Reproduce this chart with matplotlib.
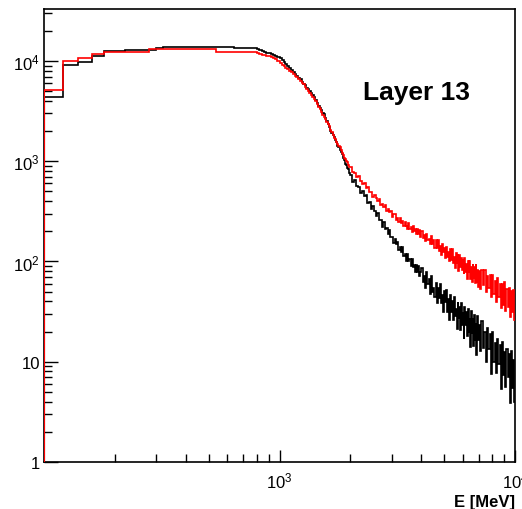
import numpy as np
import matplotlib
matplotlib.use("Agg")
import matplotlib.pyplot as plt
from matplotlib.ticker import FixedLocator, FuncFormatter, LogLocator, NullFormatter

# ===== DATA (counts per bin) =====
# bins: 20 MeV up to 2 GeV, 40 MeV up to 4 GeV, 50 MeV up to 7 GeV, 100 MeV up to 10 GeV
edges = np.concatenate([np.arange(100, 2000, 20),
                        np.arange(2000, 4000, 40),
                        np.arange(4000, 7000, 50),
                        np.arange(7000, 10001, 100)])

black_low = [
    4370, 9190, 9660, 11220, 12500, 12600, 12880, 12900, 12900, 12950,        # 100-280
    13620, 13650, 13640, 13660, 13680, 13650, 13670, 13690, 13660, 13650, 13680, 13700,  # 300-520
    13670, 13650, 13640, 13660, 13630, 13610, 13600, 13580, 13560, 13520, 13480, 13420,  # 540-760
    13340, 13030, 12740, 12530, 12300, 12100, 11890, 11700, 11480, 11220, 10960,  # 780-980
    10590, 10230, 9770, 9420, 8910, 8510, 8050, 7850, 7500, 7160,            # 1000-1180
    6840, 6600, 6240, 5960, 5750, 5430, 5250, 5010, 4790, 4570,              # 1200-1380
    4380, 4070, 3850, 3560, 3430, 3240, 3050, 2930, 2720, 2540,              # 1400-1580
    2370, 2210, 2020, 1930, 1820, 1750, 1620, 1550, 1420, 1380,              # 1600-1780
    1300, 1230, 1180, 1080, 1020, 940, 910, 860, 830, 770,                   # 1800-1980
]
black_mid = [
    726, 627, 654, 564, 558, 485, 510, 445, 459, 381,
    389, 332, 357, 318, 285, 308, 258, 261, 223, 246,
    212, 217, 187, 207, 174, 175, 153, 169, 148, 158,
    129, 140, 124, 138, 114, 119, 102, 118, 102, 107,
    91, 106, 88, 93, 79, 92, 79, 90, 71, 79,
]
black_high = [
    85.9, 62.6, 71.5, 54.5, 78.2, 59.0, 66.4, 47.1, 71.1, 50.1,
    54.9, 44.1, 61.4, 38.4, 54.2, 43.6, 59.0, 38.7, 46.5, 31.6,
    51.2, 39.1, 51.9, 31.1, 42.0, 26.0, 46.1, 31.2, 40.3, 25.9,
    44.1, 28.4, 33.6, 21.1, 39.8, 27.5, 35.3, 20.6, 38.9, 23.1,
    30.4, 16.8, 35.2, 23.0, 31.4, 18.1, 33.9, 19.4, 26.7, 13.9,
    32.0, 19.4, 27.6, 14.3, 29.4, 16.3, 24.1, 11.7, 28.3, 16.4,
]
black_tail = [
    23.5, 12.7, 25.5, 13.7, 19.8, 9.9, 21.6, 13.5, 18.9, 7.6,
    20, 10, 15.5, 7.8, 16.8, 9.5, 14.7, 5.3, 15.8, 7.4,
    12.4, 5.6, 13.5, 7, 11.9, 3.9, 12.8, 5.5, 10.3, 4.0,
]

red_low = [
    5130, 10110, 10590, 11750, 12370, 12400, 12400, 12410, 12390, 13100,      # 100-280
    13150, 13180, 13200, 13190, 13170, 13200, 13210, 13180, 13160, 13190, 13170, 13150,  # 300-520
    12400, 12420, 12390, 12410, 12380, 12400, 12390, 12370, 12380, 12360, 12350, 12330,  # 540-760
    12300, 12020, 11750, 11480, 11350, 11220, 11090, 10960, 10720, 10350, 10000,  # 780-980
    9550, 9120, 8810, 8510, 8300, 7940, 7760, 7500, 7080, 6920,              # 1000-1180
    6610, 6310, 6100, 5900, 5560, 5310, 5070, 4760, 4620, 4420,              # 1200-1380
    4180, 3950, 3740, 3480, 3290, 3110, 2890, 2780, 2620, 2470,              # 1400-1580
    2330, 2230, 2060, 1940, 1830, 1710, 1650, 1570, 1500, 1430,              # 1600-1780
    1380, 1290, 1220, 1150, 1070, 1050, 1000, 975, 910, 870,                 # 1800-1980
]
red_mid = [
    868, 780, 770, 689, 709, 641, 597, 600, 547, 557,
    492, 489, 440, 463, 428, 402, 418, 370, 378, 351,
    368, 319, 337, 310, 319, 280, 295, 299, 262, 270,
    248, 273, 242, 251, 225, 246, 227, 213, 240, 210,
    220, 197, 224, 202, 211, 188, 209, 188, 208, 175,
]
red_high = [
    201, 173, 185, 160, 189, 163, 169, 148, 179, 150,
    162, 135, 163, 136, 162, 128, 143, 117, 149, 125,
    137, 108, 140, 112, 124, 100, 132, 104, 133, 97,
    111, 86, 122, 97, 120, 80, 117, 88, 108, 83,
    104, 75, 109, 78, 95, 67, 101, 76, 102, 67,
    89, 62, 94, 68, 89, 61, 94, 63, 82, 56,
]
red_tail = [
    81, 53, 82, 58, 83, 50, 72, 54, 73, 44,
    73, 47, 64, 39, 69, 44, 59, 34, 60, 37,
    62, 32, 53, 35, 55, 28, 51, 31, 52.5, 26,
]

black = np.array(black_low + black_mid + black_high + black_tail, dtype=float)
red = np.array(red_low + red_mid + red_high + red_tail, dtype=float)

# ===== STYLE =====
plt.rcParams["font.family"] = ["Liberation Sans", "DejaVu Sans"]
plt.rcParams["mathtext.fontset"] = "custom"
plt.rcParams["mathtext.rm"] = "Liberation Sans"
plt.rcParams["mathtext.it"] = "Liberation Sans:italic"
plt.rcParams["mathtext.bf"] = "Liberation Sans:bold"

fig = plt.figure(figsize=(5.22, 5.10), dpi=100)
ax = fig.add_axes([44 / 522, 47 / 510, 471 / 522, 453 / 510])

# ===== PLOT =====
ax.stairs(black, edges, color="black", lw=1.2, baseline=None, zorder=3)
ax.vlines(edges[0], 0.5, black[0], color="black", lw=1.5, zorder=3)
ax.stairs(red, edges, color="#ff0000", lw=1.2, baseline=None, zorder=4)
ax.vlines(edges[0], 0.5, red[0], color="#ff0000", lw=1.5, zorder=4)

ax.set_xscale("log")
ax.set_yscale("log")
ax.set_xlim(100, 10000)
ax.set_ylim(1, 33000)


def pow_label(v, pos):
    if v < 1.5:
        return "1"
    if v < 15:
        return "10"
    return r"$\mathregular{10^{%d}}$" % int(round(np.log10(v)))


ax.xaxis.set_major_locator(FixedLocator([1e3, 1e4]))
ax.xaxis.set_minor_locator(LogLocator(base=10, subs=range(2, 10)))
ax.xaxis.set_major_formatter(FuncFormatter(pow_label))
ax.xaxis.set_minor_formatter(NullFormatter())
ax.yaxis.set_major_locator(LogLocator(base=10))
ax.yaxis.set_minor_locator(LogLocator(base=10, subs=range(2, 10)))
ax.yaxis.set_major_formatter(FuncFormatter(pow_label))
ax.yaxis.set_minor_formatter(NullFormatter())

ax.tick_params(which="both", direction="in", top=False, right=False, width=1.0)
ax.tick_params(axis="y", which="major", length=10, pad=3, labelsize=12)
ax.tick_params(axis="y", which="minor", length=5.5)
ax.tick_params(axis="x", which="major", length=9, pad=6, labelsize=12)
ax.tick_params(axis="x", which="minor", length=5.5)

for sp in ax.spines.values():
    sp.set_linewidth(1.2)

ax.set_xlabel("E [MeV]", fontsize=12, fontweight="bold", loc="right")
ax.xaxis.set_label_coords(1.0, -0.071)

ax.text(0.79, 0.801, "Layer 13", transform=ax.transAxes, ha="center",
        va="baseline", fontsize=19, fontweight="bold")

fig.savefig("out.png", dpi=100)
